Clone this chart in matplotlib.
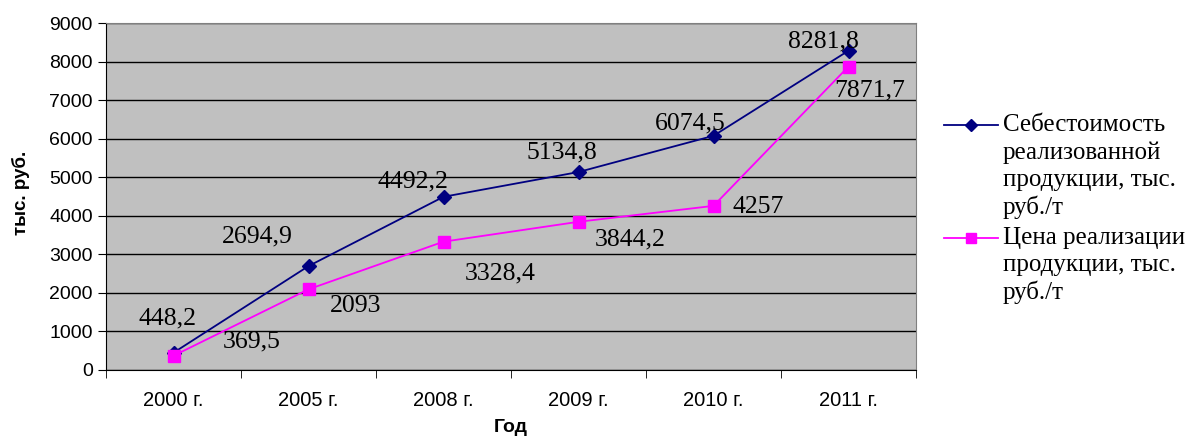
import matplotlib.pyplot as plt
from matplotlib.lines import Line2D

years = ["2000 г.", "2005 г.", "2008 г.", "2009 г.", "2010 г.", "2011 г."]
cost = [448.2, 2694.9, 4492.2, 5134.8, 6074.5, 8281.8]
price = [369.5, 2093, 3328.4, 3844.2, 4257, 7871.7]
cost_labels = ["448,2", "2694,9", "4492,2", "5134,8", "6074,5", "8281,8"]
price_labels = ["369,5", "2093", "3328,4", "3844,2", "4257", "7871,7"]
legend_cost = ["Себестоимость", "реализованной", "продукции, тыс.", "руб./т"]
legend_price = ["Цена реализации", "продукции, тыс.", "руб./т"]

# label offsets in points, relative to the marker
cost_off = [(-4, 25), (-37, 21), (-22, 11), (-12, 14), (-17, 9), (-18, 6.5)]
price_off = [(56, 10), (34, -12), (41, -23), (37, -13), (32, -1), (15, -17)]

plt.rcParams["font.family"] = ["Liberation Sans", "DejaVu Sans"]

W, H = 1190, 437
fig = plt.figure(figsize=(W / 100, H / 100), dpi=100)
ax = fig.add_axes([106 / W, 67 / H, 810 / W, 347 / H])
ax.set_facecolor("#c0c0c0")

x = list(range(len(years)))
blue, pink = "#000080", "#ff00ff"
ax.plot(x, cost, color=blue, marker="D", markersize=7, lw=1.3)
ax.plot(x, price, color=pink, marker="s", markersize=8, lw=1.3)

for xi, v, t, o in zip(x, cost, cost_labels, cost_off):
    ax.annotate(t, (xi, v), xytext=o, textcoords="offset points", ha="center", va="center",
                fontsize=18.5, family="Liberation Serif")
for xi, v, t, o in zip(x, price, price_labels, price_off):
    ax.annotate(t, (xi, v), xytext=o, textcoords="offset points", ha="center", va="center",
                fontsize=18.5, family="Liberation Serif")

ax.set_xlim(-0.5, len(years) - 0.5)
ax.set_ylim(0, 9000)
ax.set_yticks(range(0, 9001, 1000))
ax.set_xticks(x)
ax.set_xticklabels(years)
ax.set_xticks([i + 0.5 for i in range(-1, len(years))], minor=True)
ax.tick_params(axis="x", which="major", length=0, pad=15, labelsize=14.5)
ax.tick_params(axis="x", which="minor", length=6, color="black")
ax.tick_params(axis="y", length=6, labelsize=14, color="black")
ax.grid(axis="y", color="black", lw=1)
ax.set_axisbelow(True)
for s in ["top", "right"]:
    ax.spines[s].set_color("#808080")
for s in ["left", "bottom"]:
    ax.spines[s].set_color("black")

ax.set_xlabel("Год", fontsize=14, fontweight="bold", va="center")
ax.xaxis.set_label_coords(0.5, -(428 - 370) / 347)
ax.set_ylabel("тыс. руб.", fontsize=13.5, fontweight="bold", va="center")
ax.yaxis.set_label_coords(-(106 - 21) / 810, (370 - 193) / 347)

# legend: marker sits on the first text line, as in the original
def legend_entry(y0, lines, color, marker, ms):
    yf = 1 - y0 / H
    fig.add_artist(Line2D([944 / W, 998 / W], [yf, yf], color=color, lw=1.3))
    fig.add_artist(Line2D([971 / W], [yf], color=color, marker=marker, markersize=ms))
    for i, t in enumerate(lines):
        fig.text(1003 / W, 1 - (y0 + 27.3 * i) / H, t, ha="left", va="center",
                 fontsize=18, family="Liberation Serif")

legend_entry(125, legend_cost, blue, "D", 6.5)
legend_entry(238, legend_price, pink, "s", 7.5)

fig.savefig("out.png", dpi=100)
